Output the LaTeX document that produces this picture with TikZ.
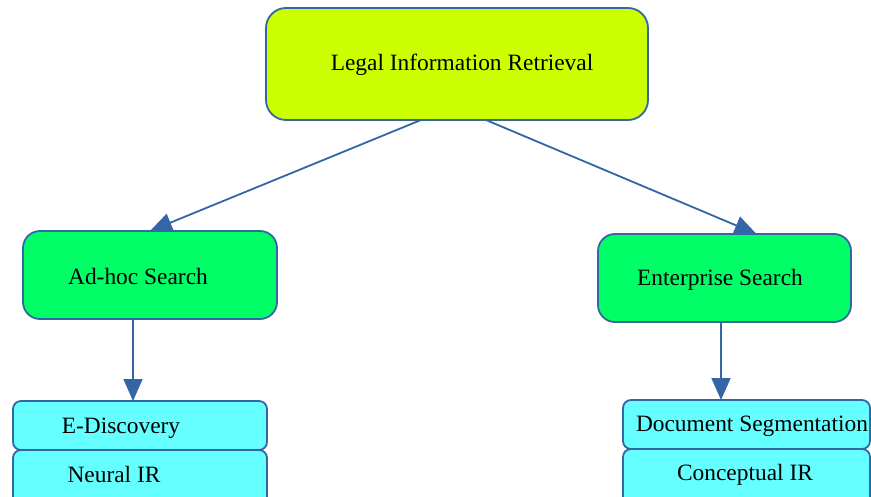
\documentclass[tikz,border=0pt]{standalone}
\usepackage{fontspec}
\setmainfont{Liberation Serif}
\usetikzlibrary{arrows.meta,calc}
\definecolor{edgeblue}{HTML}{3465A4}
\definecolor{rootfill}{HTML}{CCFF00}
\definecolor{midfill}{HTML}{00FF66}
\definecolor{leaffill}{HTML}{66FFFF}
\begin{document}
\begin{tikzpicture}[x=1pt,y=-1pt,
  box/.style={draw=edgeblue,line width=1.8pt,outer sep=0pt,inner sep=0pt},
  rootbox/.style={box,fill=rootfill,rounded corners=20pt,minimum width=382pt,minimum height=112pt},
  midbox/.style={box,fill=midfill,rounded corners=17pt,minimum width=254pt,minimum height=88pt},
  leafbox/.style={box,fill=leaffill,rounded corners=8pt,minimum height=49pt},
  txt/.style={font=\fontsize{23.4}{28}\selectfont,inner sep=0pt,text=black},
  arr/.style={draw=edgeblue,line width=1.8pt,-{Triangle[length=22pt,width=19pt]}}]
\useasboundingbox (0,0) rectangle (871,497);
\clip (0,0) rectangle (871,497);

% root
\node[rootbox] (legal) at (457,64) {};
\node[txt] (legalT) at (462,65) {Legal Information Retrieval};

% second level
\node[midbox] (adhoc) at (150,275) {};
\node[txt] (adhocT) at (138,276.5) {Ad-hoc Search};
\node[midbox,minimum width=253pt] (enterprise) at (724.5,278) {};
\node[txt] (enterpriseT) at (720,279.5) {Enterprise Search};

% leaves, left column
\node[leafbox,minimum width=254pt] (edisc) at (140,425.5) {};
\node[txt] (ediscT) at (121,428) {E-Discovery};
\node[leafbox,minimum width=254pt,minimum height=62pt] (neural) at (140,481) {};
\node[txt] (neuralT) at (114,474.5) {Neural IR};

% leaves, right column
\node[leafbox,minimum width=247pt] (docseg) at (746.5,424.5) {};
\node[txt] (docsegT) at (752,426.5) {Document Segmentation};
\node[leafbox,minimum width=247pt,minimum height=62pt] (concept) at (746.5,480) {};
\node[txt] (conceptT) at (745,474.5) {Conceptual IR};

% connectors
\coordinate (l1) at ($(legal.south)+(-36,0)$);
\coordinate (l2) at ($(legal.south)+(29,0)$);
\coordinate (e1) at ($(enterprise.north)+(32,0)$);
\draw[arr] (l1) -- (adhoc.north);
\draw[arr] (l2) -- (e1);
\coordinate (a1) at ($(adhoc.south)+(-17,0)$);
\draw[arr] (a1) -- (a1 |- edisc.north);
\coordinate (b1) at ($(enterprise.south)+(-3.5,0)$);
\draw[arr] (b1) -- (b1 |- docseg.north);
\end{tikzpicture}
\end{document}
